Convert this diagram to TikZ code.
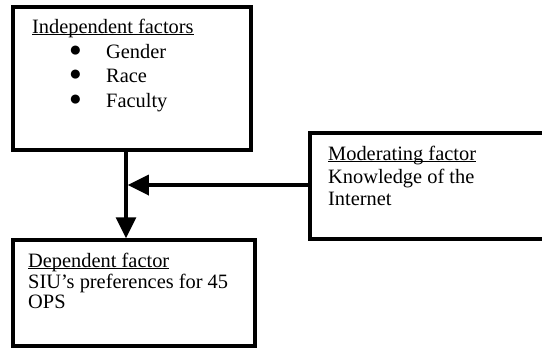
\documentclass[tikz,border=0pt]{standalone}
\usepackage{fontspec}
\setmainfont{Liberation Serif}
\usepackage{calc}
\usetikzlibrary{arrows.meta}
\newcommand{\bigbul}{\raisebox{1.5pt}{\fontsize{21}{21}\selectfont ●}}
\newcommand{\myul}[1]{\rlap{\rule[-2.2pt]{\widthof{#1}}{0.9pt}}#1}
\begin{document}
\begin{tikzpicture}[x=1pt,y=-1pt,
  box/.style={draw,line width=3.5pt,rectangle,inner sep=0pt},
  txt/.style={anchor=base west,inner sep=0pt,font=\fontsize{20.4}{21}\selectfont},
  conn/.style={line width=3.5pt,-{Triangle[length=21pt,width=20pt]}},
  link/.style={line width=3.5pt}]
\useasboundingbox (0,0) rectangle (542,349);
\node[box,minimum width=238pt,minimum height=143pt] (top) at (132,78.5) {};
\node[box,minimum width=242pt,minimum height=106pt] (bot) at (134,293) {};
\node[box,minimum width=238pt,minimum height=106pt] (mod) at (429,186) {};
\coordinate (j) at (126,185);
\node[txt] (t1) at (32,33) {\myul{Independent factors}};
\node[txt] (b1) at (69,58) {\bigbul};
\node[txt] (i1) at (106,58) {Gender};
\node[txt] (b2) at (69,82) {\bigbul};
\node[txt] (i2) at (106,82) {Race};
\node[txt] (b3) at (69,107) {\bigbul};
\node[txt] (i3) at (106,107) {Faculty};
\node[txt] (d1) at (28,267) {\myul{Dependent factor}};
\node[txt] (d2) at (28,288) {SIU’s preferences for 45};
\node[txt] (d3) at (28,308) {OPS};
\node[txt] (m1) at (328,160) {\myul{Moderating factor}};
\node[txt] (m2) at (328,183) {Knowledge of the};
\node[txt] (m3) at (328,205) {Internet};
\draw[link] (top.south -| j) -- (j);
\draw[conn] (j) -- (bot.north -| j);
\draw[conn] (mod.west |- j) -- ([xshift=1.75pt]j);
\end{tikzpicture}
\end{document}
